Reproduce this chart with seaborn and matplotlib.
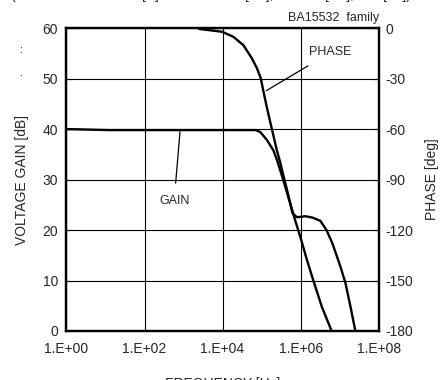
import numpy as np
import pandas as pd
import matplotlib
matplotlib.use('Agg')
import matplotlib.pyplot as plt
import seaborn as sns

# 增益曲线 (频率 Hz, 增益 dB)
gain_freq = [1, 12.6, 7.1e4, 9.3e4, 1.38e5, 2.0e5, 2.5e5, 3.6e5, 5.4e5, 7.2e5,
             9.8e5, 1.45e6, 2.1e6, 3.5e6, 5.8e6, 6.6e6]
gain_db = [40.0, 39.8, 39.8, 39.4, 37.8, 35.8, 33.8, 29.9, 25.3, 22.0,
           18.7, 14.1, 10.1, 4.8, 0.6, -0.5]

# 相位曲线 (频率 Hz, 相位 deg)
phase_freq = [2.5e3, 7.4e3, 9.8e3, 1.9e4, 3.4e4, 5.6e4, 7.6e4, 9.5e4, 1.12e5, 1.38e5,
              1.66e5, 2.0e5, 2.45e5, 3.0e5, 3.6e5, 4.5e5, 5.4e5, 6.2e5, 8.1e5, 1.32e6,
              2.0e6, 3.2e6, 4.6e6, 6.5e6, 8.3e6, 1.05e7, 1.41e7, 1.9e7, 2.5e7, 2.7e7]
phase_deg = [-0.5, -1.8, -2.2, -5.2, -10.1, -17.8, -23.8, -29.7, -37.8, -47.5,
             -55.7, -63.6, -72.5, -79.7, -87.4, -96.3, -104, -110, -112.4, -111.8,
             -112.6, -114.5, -120, -127.8, -134.9, -141.8, -151.5, -165.6, -179.4, -183]

x_ticks = [1e0, 1e2, 1e4, 1e6, 1e8]
x_labels = ['1.E+00', '1.E+02', '1.E+04', '1.E+06', '1.E+08']
gain_ticks = [0, 10, 20, 30, 40, 50, 60]
phase_ticks = [-180, -150, -120, -90, -60, -30, 0]

# 顶部被裁掉的条件说明（分段）
cond_parts = ['(VCC=\u00b115', '[V]  Av=40', '[dB],  RL=2', '[k\u03a9],', '[\u00b0C])']

sns.set_style('white')
plt.rcParams['font.family'] = ['Liberation Sans', 'DejaVu Sans']

df_gain = pd.DataFrame({'freq': gain_freq, 'gain': gain_db})
df_phase = pd.DataFrame({'freq': phase_freq, 'phase': phase_deg})

fig = plt.figure(figsize=(4.46, 3.8), dpi=100)
ax = fig.add_axes([0.149, 0.129, 0.700, 0.797])
ax2 = ax.twinx()

sns.lineplot(data=df_gain, x='freq', y='gain', ax=ax, color='black', lw=1.7)
sns.lineplot(data=df_phase, x='freq', y='phase', ax=ax2, color='black', lw=1.7)

ax.set_xscale('log')
ax.set_xlim(1e0, 1e8)
ax.set_ylim(0, 60)
ax2.set_ylim(-180, 0)
ax.set_xticks(x_ticks)
ax.set_xticklabels(x_labels)
ax.xaxis.set_minor_locator(matplotlib.ticker.NullLocator())
ax.set_yticks(gain_ticks)
ax2.set_yticks(phase_ticks)
ax2.set_yticklabels([str(v) for v in phase_ticks])

ax.grid(True, color='black', lw=0.8)
ax.tick_params(axis='both', labelsize=10, direction='in', length=4, color='black', pad=6)
ax.tick_params(axis='x', length=0, pad=8)
ax2.tick_params(axis='y', labelsize=10, direction='in', length=4, color='black', pad=5)
for a in (ax, ax2):
    for s in a.spines.values():
        s.set_linewidth(1.6)
        s.set_color('black')

ax.set_xlabel('FREQUENCY [Hz]', fontsize=10, labelpad=15)
ax.set_ylabel('VOLTAGE GAIN [dB]', fontsize=10, labelpad=10)
ax2.set_ylabel('PHASE [deg]', fontsize=10, labelpad=8)

ax.text(1, 1.012, 'BA15532  family', transform=ax.transAxes, ha='right', va='bottom', fontsize=9)

# 标注
ax.annotate('PHASE', xy=(1.32e5, 47.6), xytext=(5.9e6, 55.2), fontsize=9,
            ha='center', va='center',
            arrowprops=dict(arrowstyle='-', color='black', lw=0.9, shrinkA=6, shrinkB=0))
ax.annotate('GAIN', xy=(813, 39.5), xytext=(575, 25.8), fontsize=9,
            ha='center', va='center',
            arrowprops=dict(arrowstyle='-', color='black', lw=0.9, shrinkA=6, shrinkB=0))

for px, part in zip([10, 142, 245, 325, 383], cond_parts):
    fig.text(px / 446, 1 + 0.5 / 380, part, fontsize=10, va='baseline', ha='left')
fig.text(21.7 / 446, 1 - 50 / 380, ':', fontsize=8, ha='center', va='center')
fig.text(21.7 / 446, 1 - 73 / 380, '.', fontsize=8, ha='center', va='center')

plt.savefig('out.png', dpi=100)
